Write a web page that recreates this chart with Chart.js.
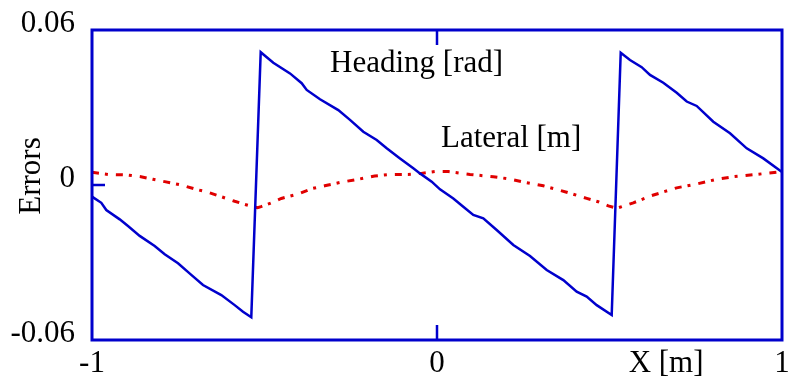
<!DOCTYPE html>
<html>
<head>
<meta charset="utf-8">
<script src="https://cdn.jsdelivr.net/npm/chart.js@4/dist/chart.umd.min.js"></script>
<style>
  html, body { margin: 0; padding: 0; background: #ffffff; }
  #wrap { width: 793px; height: 379px; }
</style>
</head>
<body>
<div id="wrap"><canvas id="c" width="793" height="379"></canvas></div>
<script>
// Tracking errors along the path: heading error [rad] and lateral error [m]
const headingX = [-1, -0.973, -0.9586, -0.9197, -0.8957, -0.8617, -0.8183, -0.7893, -0.7507, -0.7122,
  -0.6783, -0.6252, -0.5864, -0.5623, -0.5383, -0.511, -0.4745, -0.4261, -0.3922, -0.3777,
  -0.3391, -0.2861, -0.2522, -0.2136, -0.1748, -0.1458, -0.1072, -0.0687, -0.0493, -0.0154,
  0.0087, 0.0473, 0.0762, 0.1052, 0.1342, 0.173, 0.2212, 0.2696, 0.318, 0.3661,
  0.4049, 0.4339, 0.4629, 0.5064, 0.5325, 0.5594, 0.5933, 0.6174, 0.6559, 0.6948,
  0.7238, 0.7527, 0.8009, 0.8493, 0.8977, 0.9458, 1];
const headingY = [-0.0045, -0.0069, -0.0097, -0.0133, -0.0159, -0.0197, -0.0236, -0.0268, -0.0303, -0.0348,
  -0.0387, -0.0426, -0.0465, -0.0491, -0.0512, 0.0514, 0.0473, 0.0432, 0.0394, 0.0368,
  0.0332, 0.029, 0.0252, 0.0206, 0.0174, 0.0142, 0.0103, 0.0065, 0.0045, 0.0013,
  -0.0017, -0.0052, -0.0084, -0.0116, -0.0129, -0.0174, -0.0232, -0.0275, -0.0329, -0.0368,
  -0.0413, -0.0432, -0.0465, -0.0503, 0.0512, 0.0484, 0.0456, 0.0426, 0.0396, 0.0357,
  0.0323, 0.0306, 0.0245, 0.02, 0.0142, 0.0103, 0.005];

const lateralX = [-1, -0.9536, -0.9006, -0.858, -0.8232, -0.7893, -0.7412, -0.6977, -0.6638, -0.6348,
  -0.5864, -0.5574, -0.5333, -0.52, -0.5101, -0.4803, -0.4513, -0.4029, -0.3594, -0.3255,
  -0.2774, -0.229, -0.1806, -0.142, -0.0841, -0.0455, -0.0067, 0.0328, 0.0957, 0.1632,
  0.2116, 0.26, 0.3081, 0.3759, 0.4339, 0.4675, 0.4965, 0.5209, 0.569, 0.6223,
  0.6948, 0.7527, 0.8107, 0.8588, 0.9267, 1];
const lateralY = [0.0049, 0.0041, 0.0039, 0.0032, 0.0022, 0.0013, 0, -0.0017, -0.0028, -0.0041,
  -0.0063, -0.0075, -0.0084, -0.0088, -0.0084, -0.0069, -0.0052, -0.0035, -0.0013, -0.0003,
  0.0011, 0.0022, 0.0035, 0.004, 0.0041, 0.0045, 0.0052, 0.0052, 0.0041, 0.0032,
  0.0023, 0.0009, -0.0003, -0.0028, -0.0052, -0.0065, -0.0081, -0.009, -0.0069, -0.0041,
  -0.0011, 0.0004, 0.0022, 0.0032, 0.0041, 0.0052];

const xTicks = [-1, 0, 1];
const yTicks = [-0.06, 0, 0.06];
const yTickLabels = ['-0.06', '0', '0.06'];

const BLUE = '#0000cc';
const RED = '#e00000';
const SERIF = '"Liberation Serif", "Times New Roman", Times, serif';

const toPoints = (xs, ys) => xs.map((x, i) => ({ x: x, y: ys[i] }));

// Frame around the plot, inward tick marks and the in-plot annotations
const framePlugin = {
  id: 'frame',
  afterDatasetsDraw(chart) {
    const { ctx, chartArea: a, scales } = chart;
    const xs = scales.x, ys = scales.y;
    ctx.save();
    ctx.strokeStyle = BLUE;
    ctx.lineWidth = 3;
    ctx.strokeRect(a.left, a.top, a.right - a.left, a.bottom - a.top);

    ctx.lineWidth = 2.5;
    const y0 = ys.getPixelForValue(0);
    const x0 = xs.getPixelForValue(0);
    ctx.beginPath();
    ctx.moveTo(a.left, y0); ctx.lineTo(a.left + 13, y0);
    ctx.moveTo(x0, a.top); ctx.lineTo(x0, a.top + 15);
    ctx.moveTo(x0, a.bottom); ctx.lineTo(x0, a.bottom - 15);
    ctx.stroke();

    ctx.fillStyle = '#000000';
    ctx.font = '31px ' + SERIF;
    ctx.textBaseline = 'alphabetic';
    ctx.textAlign = 'left';
    ctx.fillText('Heading [rad]', xs.getPixelForValue(-0.31), ys.getPixelForValue(0.0437));
    ctx.fillText('Lateral [m]', xs.getPixelForValue(0.0116), ys.getPixelForValue(0.0147));

    ctx.textAlign = 'center';
    ctx.textBaseline = 'middle';
    ctx.fillText('X [m]', xs.getPixelForValue(0.664), a.bottom + 24);

    ctx.translate(32, (a.top + a.bottom) / 2 - 9);
    ctx.rotate(-Math.PI / 2);
    ctx.fillText('Errors', 0, 0);
    ctx.restore();
  }
};

new Chart(document.getElementById('c'), {
  type: 'line',
  data: {
    datasets: [
      {
        label: 'Heading [rad]',
        data: toPoints(headingX, headingY),
        borderColor: BLUE,
        borderWidth: 2.5,
        pointRadius: 0,
        tension: 0,
        fill: false
      },
      {
        label: 'Lateral [m]',
        data: toPoints(lateralX, lateralY),
        borderColor: RED,
        borderWidth: 3,
        borderDash: [7, 6, 3, 8],
        pointRadius: 0,
        tension: 0,
        fill: false
      }
    ]
  },
  options: {
    responsive: false,
    animation: false,
    events: [],
    layout: { padding: { top: 30, right: 11, left: 0, bottom: 0 } },
    plugins: { legend: { display: false }, tooltip: { enabled: false } },
    scales: {
      x: {
        type: 'linear',
        min: -1,
        max: 1,
        grid: { display: false, drawTicks: false, tickLength: 0 },
        border: { display: false },
        afterBuildTicks(scale) { scale.ticks = xTicks.map(v => ({ value: v })); },
        afterFit(scale) {
          scale.height = 39;
          scale.paddingLeft = 0;
          scale.paddingRight = 0;
        },
        ticks: {
          color: '#000000',
          font: { family: SERIF, size: 31 },
          padding: 5,
          maxRotation: 0,
          autoSkip: false,
          callback: (v) => String(v)
        }
      },
      y: {
        type: 'linear',
        min: -0.06,
        max: 0.06,
        grid: { display: false, drawTicks: false, tickLength: 0 },
        border: { display: false },
        afterBuildTicks(scale) { scale.ticks = yTicks.map(v => ({ value: v })); },
        afterFit(scale) {
          scale.width = 92;
          scale.paddingTop = 0;
          scale.paddingBottom = 0;
        },
        ticks: {
          color: '#000000',
          font: { family: SERIF, size: 31 },
          padding: 17,
          labelOffset: -6,
          autoSkip: false,
          callback: (v) => yTickLabels[yTicks.indexOf(v)] !== undefined ? yTickLabels[yTicks.indexOf(v)] : ''
        }
      }
    }
  },
  plugins: [framePlugin]
});
</script>
</body>
</html>
